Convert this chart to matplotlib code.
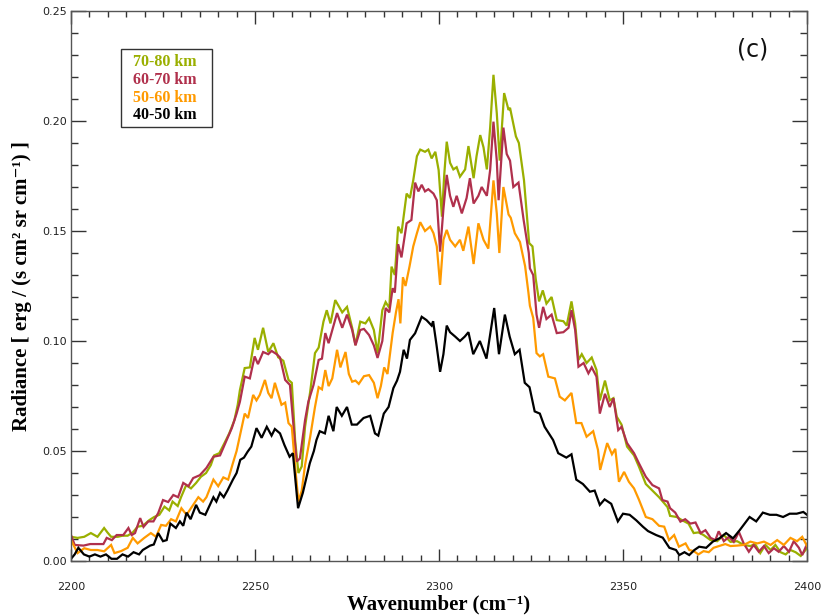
import matplotlib
matplotlib.use("Agg")
import matplotlib.pyplot as plt
from matplotlib.ticker import MultipleLocator

# ---------------- data ----------------
wn_40_50 = [2200, 2201, 2202, 2203.5, 2205, 2206.5, 2208, 2209.5, 2211, 2212.5, 2214, 2215.5, 2217, 2218.5,
            2219.5, 2221.5, 2222.5, 2223.7, 2225, 2226, 2227, 2228.5, 2229.6, 2230.5, 2231.4, 2232.5, 2234,
            2235, 2236.5, 2238.7, 2239.5, 2240.5, 2241.5, 2242.5, 2244, 2245, 2246, 2247, 2248, 2249, 2249.5,
            2250.4, 2251.8, 2253.2, 2254.5, 2255.4, 2256.8, 2258, 2259.4, 2260.3, 2260.8, 2261.7, 2263, 2264.9,
            2266, 2266.7, 2267.6, 2269, 2270, 2271.3, 2272.2, 2273.6, 2275, 2276.3, 2277.7, 2279.5, 2281.3,
            2282.6, 2283.5, 2285, 2286.3, 2287.6, 2288.6, 2289.4, 2290.4, 2291.3, 2292.1, 2293.5, 2295.3,
            2296.6, 2298, 2298.4, 2299.3, 2300.3, 2301.2, 2302.1, 2303, 2304.4, 2305.7, 2307, 2308, 2309.3,
            2311.1, 2312.9, 2315, 2316.3, 2317.9, 2319.2, 2320.6, 2321.9, 2323.3, 2324.6, 2326, 2327.4,
            2328.7, 2331, 2332.4, 2334.6, 2336, 2337.3, 2339.1, 2341, 2342.3, 2343.7, 2345, 2346.8, 2348.6,
            2350, 2351.8, 2353.6, 2355.4, 2356.8, 2359, 2360.8, 2362.6, 2364.4, 2365.3, 2366.7, 2368, 2369.4,
            2370.7, 2372.6, 2374.4, 2376.2, 2378, 2379.9, 2381.7, 2383.5, 2384.4, 2386.2, 2388, 2389.9,
            2391.7, 2393.5, 2395.3, 2397.2, 2399, 2400]
rad_40_50 = [0.001, 0.003, 0.006, 0.003, 0.002, 0.003, 0.002, 0.003, 0.001, 0.001, 0.003, 0.002, 0.004, 0.003,
             0.005, 0.007, 0.0075, 0.0127, 0.009, 0.0095, 0.017, 0.015, 0.018, 0.016, 0.022, 0.019, 0.0255,
             0.022, 0.021, 0.029, 0.027, 0.031, 0.029, 0.032, 0.037, 0.040, 0.046, 0.047, 0.0497, 0.052, 0.055,
             0.0604, 0.056, 0.061, 0.057, 0.060, 0.058, 0.0527, 0.0474, 0.049, 0.040, 0.024, 0.031, 0.0445,
             0.050, 0.055, 0.059, 0.058, 0.066, 0.059, 0.070, 0.066, 0.070, 0.062, 0.062, 0.065, 0.066,
             0.058, 0.057, 0.067, 0.070, 0.0786, 0.082, 0.086, 0.096, 0.092, 0.1005, 0.1035, 0.111,
             0.1095, 0.107, 0.109, 0.0985, 0.086, 0.094, 0.107, 0.104, 0.102, 0.100, 0.102, 0.104, 0.094,
             0.100, 0.092, 0.115, 0.094, 0.112, 0.102, 0.094, 0.096, 0.081, 0.079, 0.068, 0.067,
             0.061, 0.055, 0.049, 0.047, 0.0485, 0.037, 0.035, 0.0315, 0.032, 0.0255, 0.028, 0.026, 0.018,
             0.0215, 0.021, 0.0185, 0.0156, 0.0136, 0.0118, 0.0106, 0.006, 0.005, 0.0027, 0.004, 0.0027, 0.005,
             0.0065, 0.006, 0.0088, 0.0103, 0.0127, 0.0103, 0.014, 0.018, 0.020, 0.018, 0.022, 0.021,
             0.021, 0.020, 0.0215, 0.0215, 0.0223, 0.021]

wn_50_60 = [2200, 2201.8, 2203.6, 2205.4, 2207.2, 2209, 2210.9, 2211.8, 2213.6, 2215.4, 2216.8, 2218.1, 2219.9,
            2221.7, 2223.1, 2224.5, 2225.8, 2227.2, 2228.5, 2230, 2231.4, 2232.8, 2234.6, 2235.9, 2236.8,
            2238.7, 2240, 2241.4, 2242.7, 2244, 2245, 2245.9, 2247.2, 2248.1, 2249.5, 2250.4, 2251.3, 2252.7,
            2253.6, 2254.5, 2255.4, 2256.3, 2257.2, 2258.2, 2259.1, 2260, 2260.9, 2261.8, 2262.7, 2263.6,
            2265, 2266.3, 2267.3, 2268.2, 2269.1, 2270, 2271, 2272.3, 2273.2, 2274.6, 2275.5, 2276.4, 2277.3,
            2278.2, 2279.6, 2281, 2282.3, 2283.3, 2284.2, 2285.1, 2286, 2287.4, 2288.3, 2289, 2289.5, 2290.2,
            2290.9, 2292, 2293, 2294, 2294.9, 2296.2, 2297.6, 2298.5, 2299.4, 2300.3, 2301.2, 2302.1, 2303,
            2304.4, 2305.7, 2306.6, 2308, 2309.4, 2310.7, 2312.1, 2313.4, 2314.8, 2315.7, 2316.4, 2317.5,
            2318.9, 2319.5, 2320.6, 2322, 2323.4, 2324.3, 2324.7, 2325.6, 2326.5, 2327.4, 2328.3, 2329.7,
            2331.5, 2332.8, 2334.2, 2336, 2337.3, 2338.7, 2340.1, 2341.9, 2343.2, 2343.8, 2345.7, 2347,
            2347.9, 2348.9, 2350.3, 2351.6, 2353, 2354.3, 2356.2, 2358, 2359.8, 2361.2, 2362.5, 2363.9,
            2365.2, 2367, 2368, 2369.2, 2370.5, 2371.9, 2373.3, 2374.6, 2376.5, 2377.8, 2379.2, 2381, 2382.8,
            2384.6, 2386.5, 2388.3, 2390.1, 2391.9, 2393.7, 2395.5, 2397.3, 2398.7, 2400]
rad_50_60 = [0.0095, 0.0036, 0.0058, 0.005, 0.005, 0.0044, 0.0073, 0.0036, 0.0045, 0.006, 0.0105, 0.008, 0.0105,
             0.0127, 0.011, 0.0164, 0.016, 0.019, 0.018, 0.024, 0.021, 0.0245, 0.029, 0.027, 0.029,
             0.037, 0.034, 0.038, 0.037, 0.0445, 0.050, 0.057, 0.067, 0.065, 0.0755, 0.073, 0.0755, 0.0823,
             0.0764, 0.074, 0.081, 0.076, 0.071, 0.072, 0.0627, 0.061, 0.043, 0.027, 0.032, 0.0436,
             0.0565, 0.070, 0.079, 0.078, 0.0868, 0.0795, 0.083, 0.096, 0.088, 0.095, 0.085, 0.0815, 0.082,
             0.0805, 0.084, 0.0845, 0.081, 0.074, 0.0795, 0.088, 0.085, 0.1036, 0.113, 0.119, 0.108, 0.129,
             0.125, 0.134, 0.143, 0.149, 0.154, 0.150, 0.152, 0.149, 0.143, 0.1255, 0.146, 0.1505, 0.146,
             0.143, 0.146, 0.141, 0.152, 0.135, 0.1535, 0.146, 0.142, 0.173, 0.158, 0.140, 0.170,
             0.1575, 0.156, 0.149, 0.145, 0.134, 0.122, 0.116, 0.1105, 0.0945, 0.093, 0.094, 0.0838,
             0.083, 0.0747, 0.073, 0.0764, 0.0627, 0.0627, 0.0565, 0.059, 0.0505, 0.0414, 0.0536, 0.0485,
             0.051, 0.036, 0.0405, 0.036, 0.033, 0.028, 0.020, 0.019, 0.016, 0.0156, 0.0095, 0.0118,
             0.0065, 0.008, 0.005, 0.0045, 0.003, 0.0045, 0.004, 0.006, 0.007, 0.0077, 0.0068, 0.007, 0.0073,
             0.0088, 0.008, 0.0088, 0.0073, 0.0095, 0.0073, 0.0105, 0.009, 0.011, 0.0068]

wn_60_70 = [2200, 2201, 2203.4, 2205.2, 2207, 2208.8, 2209.7, 2211.1, 2212.4, 2214.2, 2215.6, 2216.5, 2217.4,
            2218.8, 2219.7, 2221, 2222.4, 2223.7, 2225, 2226.4, 2227.8, 2229.1, 2230.5, 2231.9, 2233.2, 2235,
            2236.8, 2238.7, 2240.5, 2242.3, 2243.7, 2245, 2245.9, 2247.2, 2248.6, 2249.9, 2250.8, 2252.2,
            2253.6, 2254.5, 2255.9, 2256.8, 2258.2, 2259.5, 2260.4, 2261.3, 2262.2, 2263.6, 2264.5, 2265.9,
            2267.3, 2268.2, 2269.1, 2270, 2271, 2272.3, 2273.7, 2275, 2276.4, 2277.3, 2278.6, 2279.6, 2281,
            2282.3, 2283.3, 2284.6, 2285.5, 2286.5, 2287.4, 2288, 2288.9, 2289.8, 2291.2, 2292.5, 2293.5,
            2294.4, 2295.3, 2296.2, 2297.1, 2298.5, 2299.4, 2300.3, 2301.2, 2302.1, 2303, 2303.9, 2304.8,
            2306.2, 2307.5, 2308.4, 2309.4, 2310.7, 2311.6, 2313, 2313.9, 2314.8, 2315.7, 2316.2, 2317.5,
            2318.4, 2319.3, 2320.2, 2321.6, 2323, 2324.4, 2324.7, 2325.6, 2326.5, 2327.2, 2328.3, 2329.2,
            2330.6, 2332, 2333.8, 2335.2, 2336, 2337, 2337.9, 2339.3, 2340.6, 2341.5, 2342.8, 2343.7, 2345.1,
            2346.4, 2347.4, 2348.7, 2349.6, 2351.1, 2353, 2354.3, 2356.2, 2358, 2359.8, 2360.7, 2362.1,
            2362.8, 2364.2, 2365.6, 2366.9, 2368.3, 2369.7, 2371.1, 2372.4, 2373.8, 2375.1, 2376, 2377.4,
            2378.8, 2380.1, 2381.5, 2382.8, 2384.2, 2385.5, 2386.9, 2388.3, 2389.6, 2391, 2392.3, 2393.7,
            2395.1, 2396.4, 2397.8, 2398.7, 2400]
rad_60_70 = [0.0118, 0.0073, 0.007, 0.0077, 0.0077, 0.0077, 0.0105, 0.0095, 0.0118, 0.0118, 0.015, 0.0118, 0.0127,
             0.0195, 0.0155, 0.018, 0.018, 0.0218, 0.0277, 0.0268, 0.030, 0.029, 0.0355, 0.034, 0.0377, 0.039,
             0.0423, 0.0474, 0.048, 0.055, 0.0604, 0.067, 0.0724, 0.0838, 0.083, 0.093, 0.0895, 0.095,
             0.094, 0.0955, 0.094, 0.0925, 0.0823, 0.080, 0.0627, 0.0452, 0.0466, 0.064, 0.0724, 0.080,
             0.0914, 0.092, 0.1036, 0.099, 0.105, 0.1127, 0.106, 0.112, 0.105, 0.098, 0.105, 0.1055, 0.1027,
             0.098, 0.0923, 0.100, 0.115, 0.113, 0.124, 0.122, 0.144, 0.138, 0.1535, 0.155, 0.172,
             0.168, 0.171, 0.168, 0.169, 0.167, 0.164, 0.1406, 0.160, 0.1755, 0.166, 0.161, 0.166,
             0.158, 0.165, 0.174, 0.1625, 0.166, 0.170, 0.166, 0.1777, 0.1997, 0.182, 0.164, 0.197,
             0.185, 0.182, 0.170, 0.172, 0.155, 0.140, 0.133, 0.130, 0.112, 0.106, 0.1155, 0.110,
             0.112, 0.1036, 0.104, 0.106, 0.114, 0.105, 0.0883, 0.090, 0.0853, 0.088, 0.0838, 0.067, 0.076,
             0.070, 0.074, 0.0595, 0.061, 0.0536, 0.049, 0.0445, 0.0383, 0.0345, 0.033, 0.0277, 0.027,
             0.024, 0.022, 0.0179, 0.019, 0.017, 0.0175, 0.0127, 0.014, 0.0105, 0.0095, 0.0135, 0.009,
             0.011, 0.0087, 0.0132, 0.008, 0.0042, 0.0073, 0.0042, 0.0068, 0.0036, 0.0058, 0.0042, 0.0068,
             0.0042, 0.009, 0.006, 0.0027, 0.0077]

wn_70_80 = [2200, 2201.8, 2203.6, 2205.4, 2207.2, 2209, 2209.9, 2210.9, 2212.7, 2214, 2215.4, 2216.8, 2218.1,
            2219.5, 2221.3, 2222.6, 2224, 2225.4, 2226.7, 2227.6, 2229, 2229.9, 2231.3, 2232.6, 2234, 2235.3,
            2236.7, 2238, 2238.9, 2240.3, 2241.7, 2243, 2244.4, 2245.3, 2245.9, 2247.2, 2248.6, 2249.9,
            2250.8, 2252.2, 2253.6, 2255, 2256.3, 2257.7, 2259.1, 2260, 2260.9, 2261.8, 2262.7, 2263.6, 2265,
            2266.3, 2267.3, 2268.6, 2269.5, 2270.5, 2271.8, 2272.7, 2273.7, 2275, 2276.4, 2277.3, 2278.6,
            2280, 2281, 2282.3, 2283.3, 2284.6, 2285.5, 2286.5, 2287.1, 2288, 2288.9, 2289.8, 2291.2, 2292.1,
            2293, 2294, 2294.9, 2296.2, 2297.1, 2298, 2299, 2299.9, 2300.8, 2301.4, 2302.1, 2303, 2303.9,
            2304.8, 2305.7, 2307.1, 2308, 2309.4, 2310.2, 2311.2, 2312.1, 2313, 2313.9, 2314.8, 2315.7,
            2316.5, 2317.7, 2318.9, 2319.3, 2320.9, 2321.7, 2323.1, 2324.5, 2325.4, 2326.3, 2327.2, 2328.2,
            2329.2, 2330.6, 2332, 2333.8, 2334.7, 2336, 2337, 2337.9, 2338.8, 2340.1, 2341.5, 2342.8, 2343.7,
            2345.1, 2346.4, 2347.4, 2348.3, 2349.6, 2351.1, 2353, 2354.3, 2356.2, 2358, 2359.8, 2362.1,
            2362.8, 2364.6, 2366, 2367.8, 2369.2, 2370.5, 2371.9, 2373.8, 2375.6, 2377.4, 2379.2, 2381,
            2382.8, 2384.6, 2385.9, 2387.3, 2388.7, 2390.1, 2391.4, 2392.8, 2394.2, 2395.5, 2396.9, 2398.3,
            2399.6, 2400]
rad_70_80 = [0.011, 0.0105, 0.011, 0.0127, 0.011, 0.015, 0.013, 0.011, 0.011, 0.0115, 0.0115, 0.013, 0.0156,
             0.016, 0.0186, 0.020, 0.021, 0.0247, 0.023, 0.027, 0.025, 0.029, 0.0345, 0.033, 0.0355, 0.0383,
             0.040, 0.0436, 0.048, 0.049, 0.0536, 0.058, 0.064, 0.071, 0.0777, 0.0877, 0.088, 0.1014,
             0.096, 0.106, 0.095, 0.099, 0.0926, 0.091, 0.0823, 0.081, 0.055, 0.040, 0.043, 0.061, 0.077,
             0.0945, 0.097, 0.1088, 0.114, 0.108, 0.1186, 0.116, 0.113, 0.1155, 0.106, 0.0982, 0.1088,
             0.108, 0.1104, 0.105, 0.0945, 0.114, 0.1177, 0.115, 0.1338, 0.130, 0.152, 0.149, 0.167, 0.165,
             0.173, 0.184, 0.187, 0.186, 0.187, 0.183, 0.186, 0.1777, 0.1565, 0.175, 0.1906, 0.181, 0.178,
             0.179, 0.1747, 0.178, 0.1886, 0.174, 0.184, 0.1936, 0.188, 0.178, 0.197, 0.221, 0.2036,
             0.182, 0.2127, 0.205, 0.206, 0.193, 0.190, 0.173, 0.1445, 0.143, 0.128, 0.118, 0.123,
             0.117, 0.120, 0.1095, 0.109, 0.107, 0.118, 0.108, 0.0914, 0.094, 0.090, 0.0925, 0.0868, 0.073,
             0.082, 0.073, 0.074, 0.0656, 0.062, 0.052, 0.048, 0.043, 0.035, 0.032, 0.029, 0.0245,
             0.0205, 0.020, 0.0186, 0.017, 0.0127, 0.013, 0.0118, 0.0095, 0.009, 0.0118, 0.0087, 0.009,
             0.0073, 0.0068, 0.0077, 0.0036, 0.0073, 0.005, 0.0073, 0.004, 0.003, 0.005, 0.004, 0.0023,
             0.005, 0.006]

legend_labels = ["70-80 km", "60-70 km", "50-60 km", "40-50 km"]
x_ticks = [2200, 2250, 2300, 2350, 2400]
y_ticks = [0.00, 0.05, 0.10, 0.15, 0.20, 0.25]

# ---------------- styling ----------------
c_green = "#9aaf00"
c_red = "#b0304c"
c_orange = "#ff9a00"
c_black = "#000000"
serif = ["Liberation Serif", "DejaVu Serif"]

fig = plt.figure(figsize=(8.22, 6.15), dpi=100)
ax = fig.add_axes([71 / 822, 1 - 561 / 615, (807 - 71) / 822, (561 - 11) / 615])

lw = 1.6
series = [(wn_70_80, rad_70_80, c_green), (wn_60_70, rad_60_70, c_red),
          (wn_50_60, rad_50_60, c_orange), (wn_40_50, rad_40_50, c_black)]
for wn, rad, col in series:
    ax.plot(wn, rad, color=col, lw=lw, solid_joinstyle="miter")

ax.set_xlim(2200, 2400)
ax.set_ylim(0, 0.25)
ax.set_xticks(x_ticks)
ax.set_yticks(y_ticks)
ax.xaxis.set_minor_locator(MultipleLocator(5))
ax.yaxis.set_minor_locator(MultipleLocator(0.01))
ax.set_xticklabels([str(t) for t in x_ticks])
ax.set_yticklabels(["%.2f" % t for t in y_ticks])
ax.tick_params(which="both", direction="in", top=True, right=True, color="#333333", width=1.0)
ax.tick_params(axis="y", which="major", length=11)
ax.tick_params(axis="y", which="minor", length=5)
ax.tick_params(axis="x", which="major", length=9)
ax.tick_params(axis="x", which="minor", length=4)
ax.tick_params(axis="both", which="major", labelsize=8, labelcolor="#222222")
ax.tick_params(axis="x", which="major", pad=15)
ax.tick_params(axis="y", which="major", pad=3)
for lab in ax.get_xticklabels() + ax.get_yticklabels():
    lab.set_family("DejaVu Sans")
for sp in ax.spines.values():
    sp.set_color("#555555")
    sp.set_linewidth(1.0)

ax.set_xlabel("Wavenumber (cm\u207b\u00b9)", family=serif, fontweight="bold", fontsize=15, labelpad=2)
ax.set_ylabel("Radiance [ erg / (s cm\u00b2 sr cm\u207b\u00b9) ]", family=serif, fontweight="bold",
              fontsize=15, labelpad=7)

# legend box (text-only, coloured entries)
leg_box = plt.Rectangle((121 / 822, 1 - 127 / 615), 91 / 822, 78 / 615, transform=fig.transFigure,
                        fill=False, edgecolor="#333333", lw=1.0)
fig.patches.append(leg_box)
leg_cols = [c_green, c_red, c_orange, c_black]
leg_y = [62, 80, 97.5, 115.5]
for lab, col, yy in zip(legend_labels, leg_cols, leg_y):
    fig.text(133 / 822, 1 - yy / 615, lab, color=col, family=serif, fontweight="bold", fontsize=11.5,
             va="center", ha="left")

fig.text(753 / 822, 1 - 50 / 615, "(c)", family="DejaVu Sans", fontsize=17, ha="center", va="center",
         color="#111111")

fig.savefig("out.png", dpi=100)
